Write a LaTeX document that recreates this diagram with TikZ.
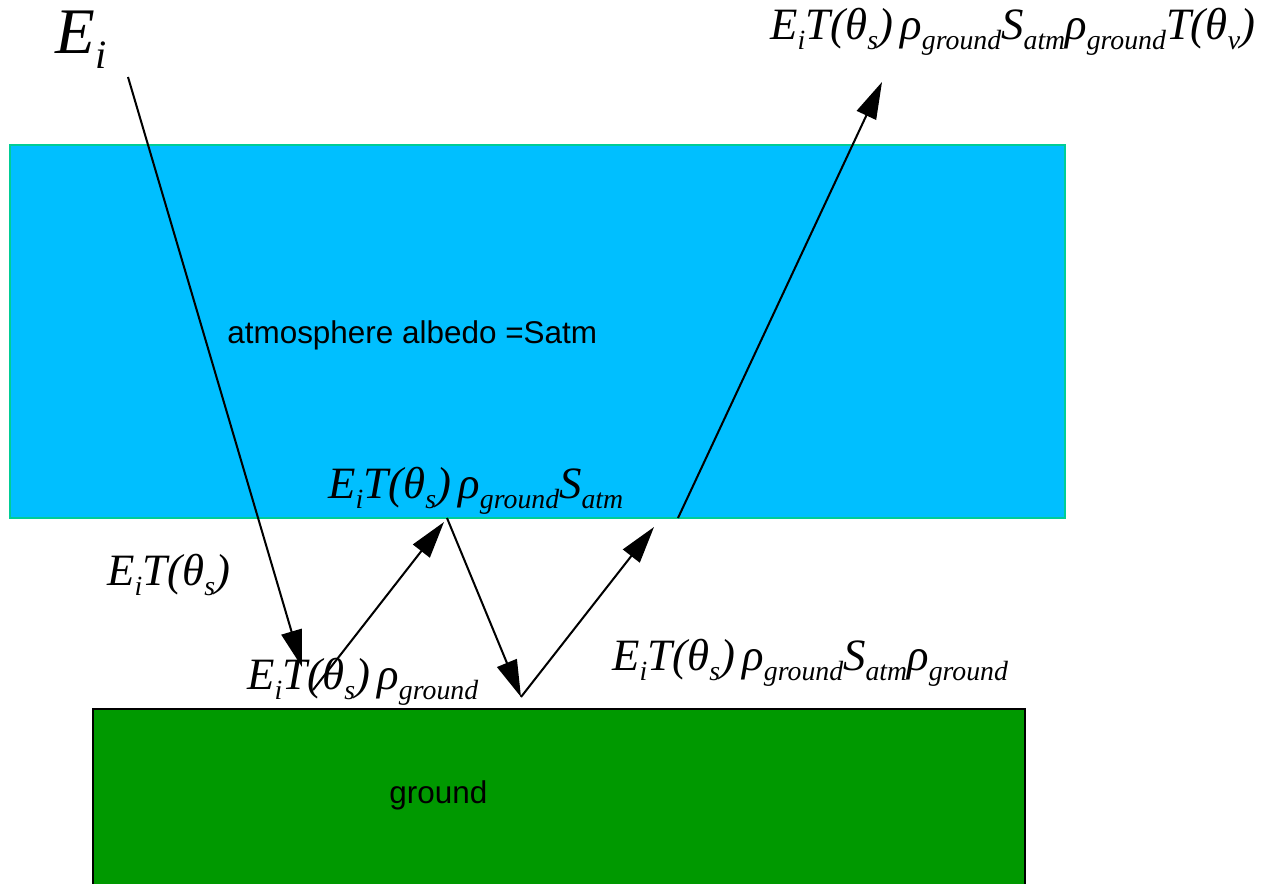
\documentclass[tikz,border=0pt]{standalone}
\usepackage{fontspec}
\usepackage{graphicx}
\setsansfont{Liberation Sans}
\newfontfamily\serifit{Liberation Serif}
\usepackage{xcolor}
\usetikzlibrary{arrows.meta}
\definecolor{atmfill}{RGB}{0,191,255}
\definecolor{atmedge}{RGB}{0,205,150}
\definecolor{groundfill}{RGB}{0,153,0}
\newcommand{\dn}[1]{\raisebox{-0.24em}{\scalebox{0.62}{#1}}}

\begin{document}
\begin{tikzpicture}[
  x=0.02cm, y=-0.02cm,
  lbl/.style={anchor=base west, inner sep=0pt, font=\serifit\itshape\fontsize{25.5}{30}\selectfont},
  txt/.style={anchor=base west, inner sep=0pt, font=\sffamily\fontsize{17.9}{20}\selectfont},
  ray/.style={-{Triangle[length=21pt,width=12pt]}, line width=1.15pt}
]
\clip (0,0) rectangle (1268,883);
\fill[white] (0,0) rectangle (1268,883);
\filldraw[fill=atmfill, draw=atmedge, line width=1.3pt] (10,145) rectangle (1065,518);
\filldraw[fill=groundfill, draw=black, line width=1.4pt] (93,709) rectangle (1025,900);
\node[txt] (atm) at (227,343) {atmosphere albedo =Satm};
\node[txt] (gnd) at (389,803) {ground};

\coordinate (sun)  at (128,77);
\coordinate (g1)   at (302,667);
\coordinate (g1s)  at (313,690);
\coordinate (a1)   at (444,522);
\coordinate (a1s)  at (447,518);
\coordinate (g2)   at (521,697);
\coordinate (a2)   at (654,527);
\coordinate (a2s)  at (678,518);
\coordinate (sky)  at (882,82);

\draw[ray] (sun) -- (g1);
\draw[ray] (g1s) -- (a1);
\draw[ray] (a1s) -- (g2);
\draw[ray] (g2) -- (a2);
\draw[ray] (a2s) -- (sky);

\node[lbl, font=\serifit\itshape\fontsize{37}{42}\selectfont] (ei) at (55,53) {E\dn{i}};
\node[lbl] (out) at (770,39) {E\dn{i}T(θ\dn{s})\,ρ\dn{ground}S\dn{atm}ρ\dn{ground}T(θ\dn{v})};
\node[lbl] (up1) at (328,498) {E\dn{i}T(θ\dn{s})\,ρ\dn{ground}S\dn{atm}};
\node[lbl] (tr)  at (107,585) {E\dn{i}T(θ\dn{s})};
\node[lbl] (rf1) at (247,689) {E\dn{i}T(θ\dn{s})\,ρ\dn{ground}};
\node[lbl] (rf2) at (612,670) {E\dn{i}T(θ\dn{s})\,ρ\dn{ground}S\dn{atm}ρ\dn{ground}};
\end{tikzpicture}
\end{document}
